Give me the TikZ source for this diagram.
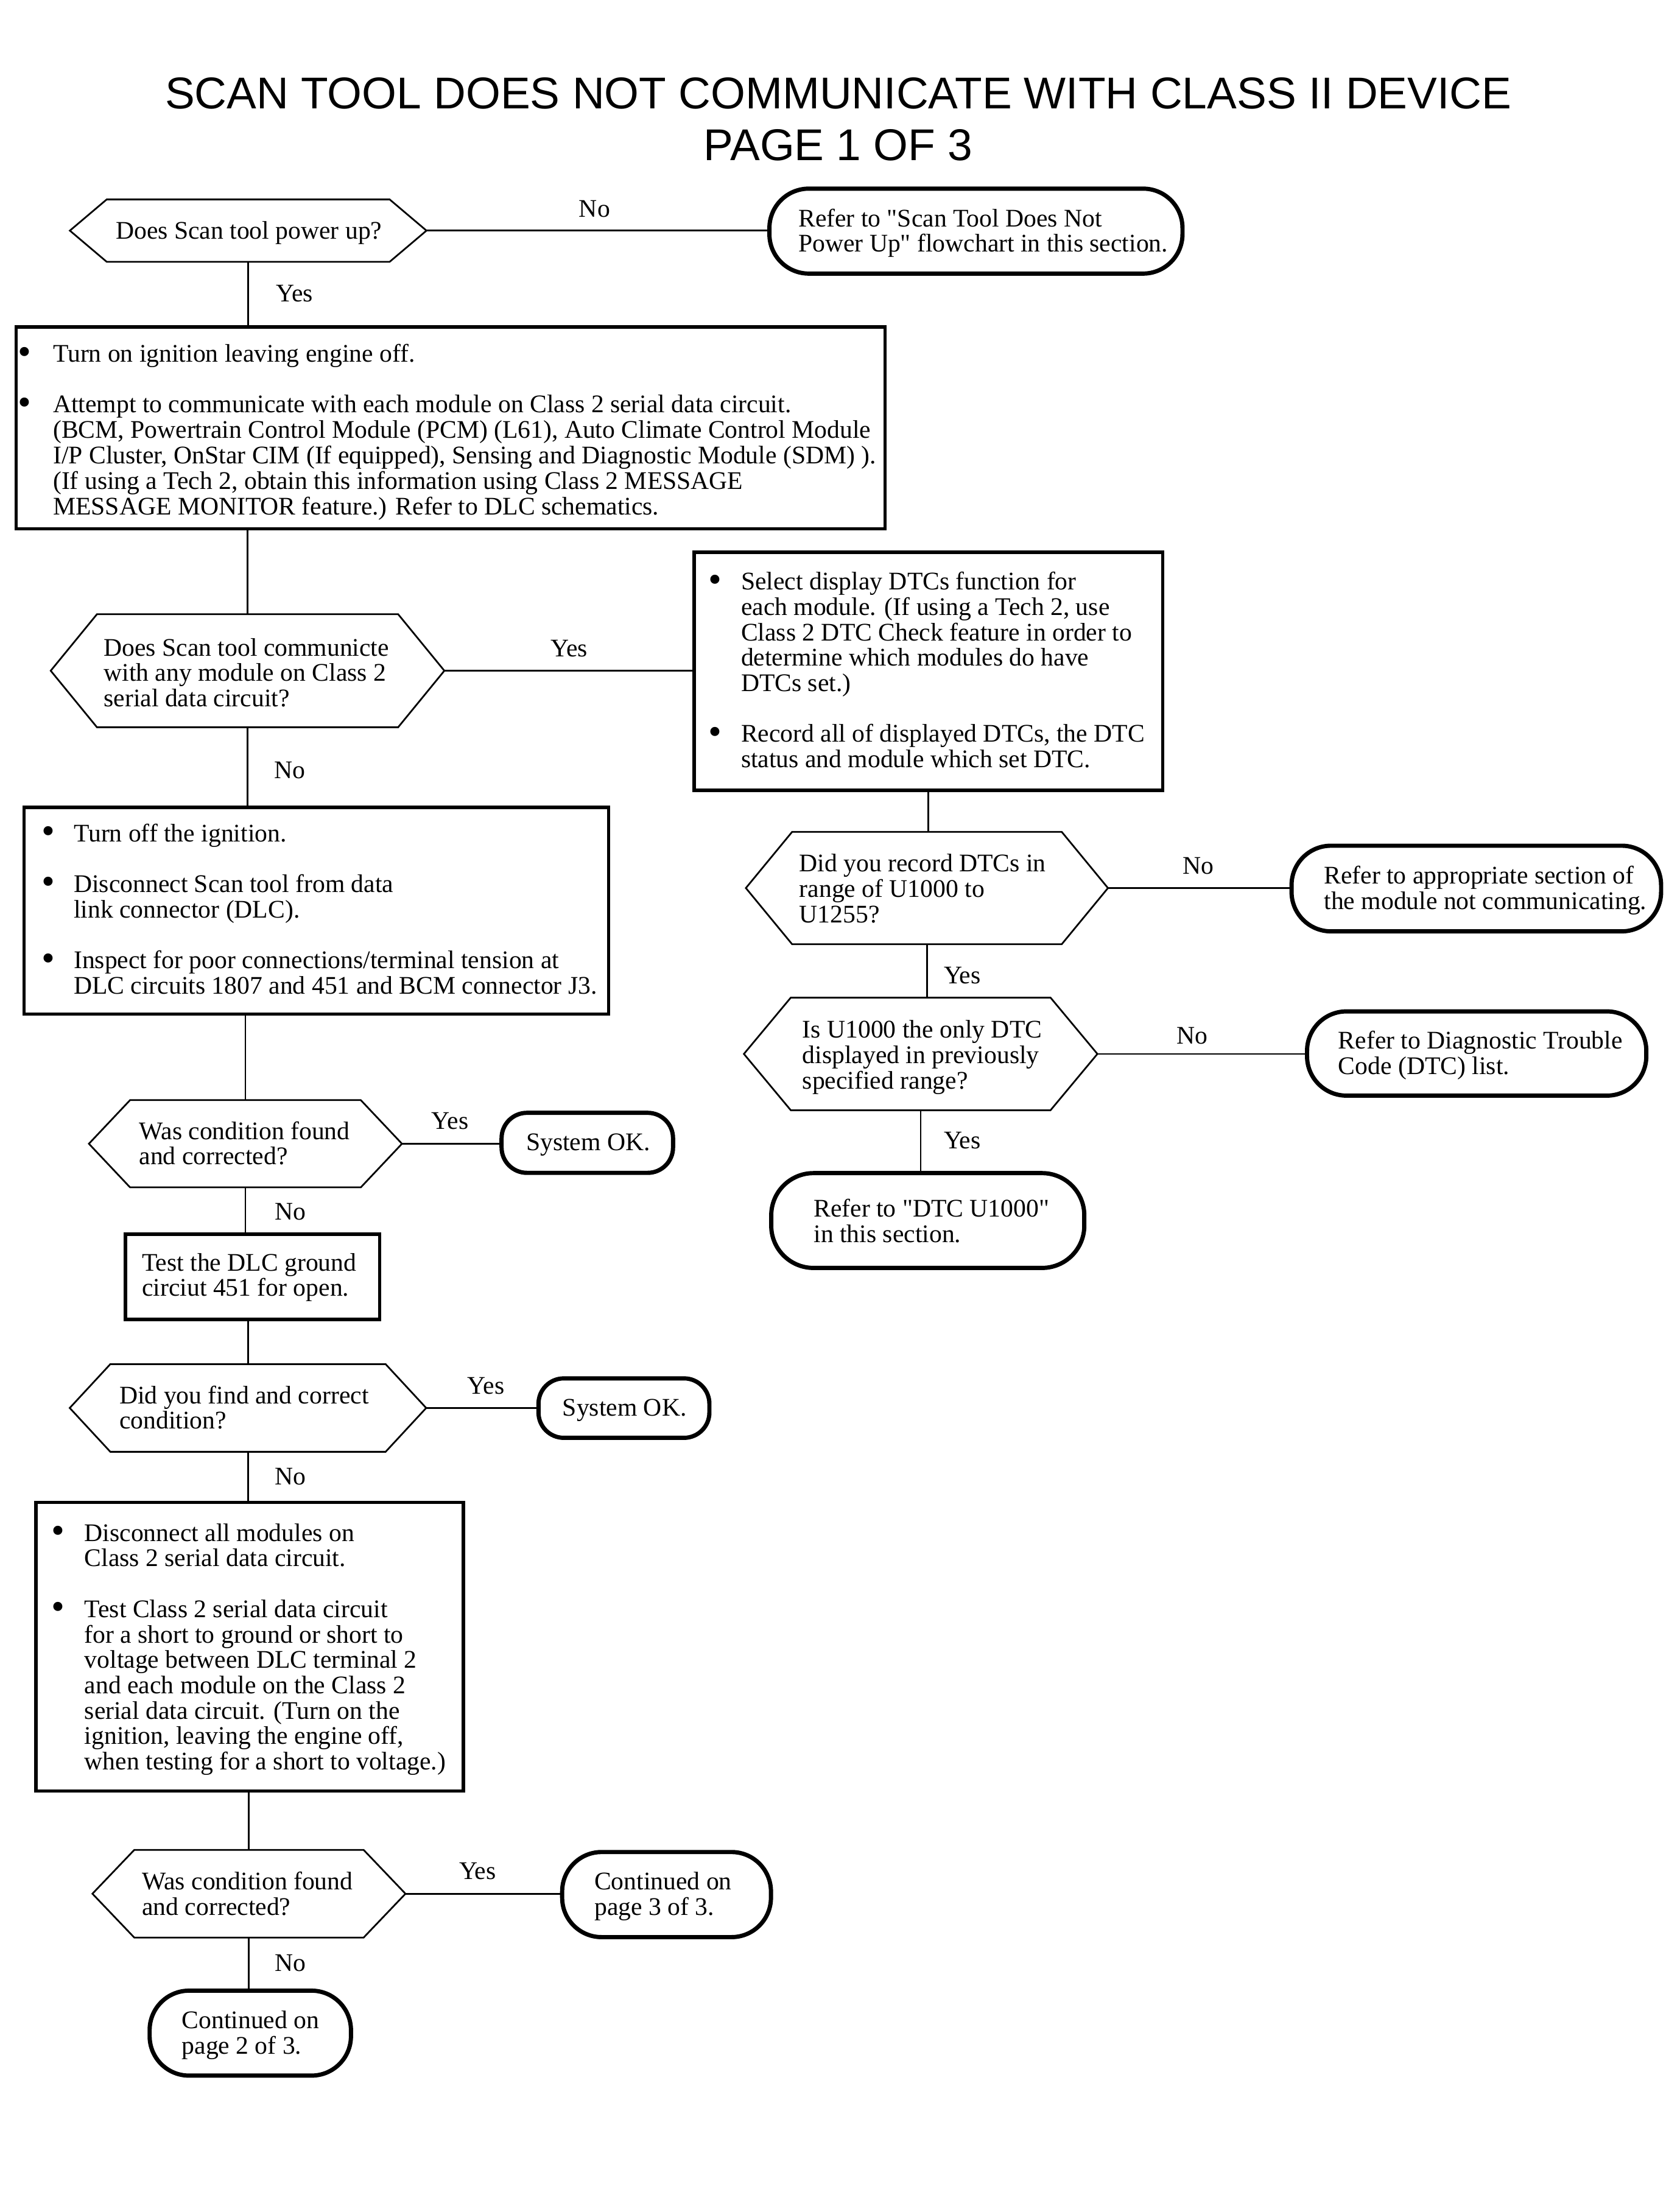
\documentclass[tikz,border=0pt]{standalone}
\usepackage{fontspec}
\setmainfont{Liberation Serif}
\newfontfamily\titlefont{Liberation Sans}
\tikzset{
  txt/.style={font=\fontsize{18}{18}\selectfont, inner sep=0pt},
  hexshape/.style={txt},
  boxshape/.style={txt, draw, line width=2.4pt},
  termshape/.style={txt, draw, line width=3pt, rounded corners=#1},
  termshape/.default=28pt,
  hexline/.style={line width=1.2pt, line join=miter},
  conn/.style={line width=1.2pt},
  lbl/.style={txt, anchor=base},
  ttl/.style={font=\titlefont\fontsize{31.6}{36}\selectfont, inner sep=0pt, anchor=base}
}
\newcommand\bul[1]{\makebox[#1pt][l]{\raisebox{-1.5pt}{\fontsize{27}{18}\selectfont\textbullet}}}
\newcommand\fnode[9]{%
  \pgfmathsetmacro\fnW{#5-#3}%
  \pgfmathsetmacro\fnH{#7-#4}%
  \pgfmathsetmacro\fnD{#6-#7}%
  \pgfmathsetmacro\fnO{#8-#3}%
  \node[#1, anchor=base west, text height=\fnH pt, text depth=\fnD pt] (#2) at (#3,#7)
    {\makebox[\fnW pt][l]{\hspace*{\fnO pt}\begin{tabular}[t]{@{}l@{}l@{}}#9\end{tabular}}};%
}
\newcommand\hexdraw[2]{\draw[hexline] (#1.west) -- ([xshift=#2pt]#1.north west) -- ([xshift=-#2pt]#1.north east) -- (#1.east) -- ([xshift=-#2pt]#1.south east) -- ([xshift=#2pt]#1.south west) -- cycle;}
\begin{document}
\begin{tikzpicture}[x=1pt,y=-1pt]
\fill[white] (0,0) rectangle (1192,1568);
\useasboundingbox (0,0) rectangle (1192,1568);

% title
\node[ttl] (title1) at (595,77) {SCAN TOOL DOES NOT COMMUNICATE WITH CLASS II DEVICE};
\node[ttl] (title2) at (595,114) {PAGE 1 OF 3};

% left column
\fnode{hexshape}{d1}{49.6}{141.8}{302.3}{185.6}{169.6}{82.0}{Does Scan tool power up?}
\hexdraw{d1}{26.1}

\fnode{termshape}{t1}{544.6}{133.9}{837.8}{194.2}{160.8}{565.2}{Refer to \textquotedbl Scan Tool Does Not\\ Power Up\textquotedbl\ flowchart in this section.}

\fnode{boxshape}{b1}{10.3}{232}{626.9}{375.3}{257}{11.4}{%
\bul{25.1}&Turn on ignition leaving engine off.\\[18pt]
\bul{25.1}&Attempt to communicate with each module on Class 2 serial data circuit.\\
&(BCM, Powertrain Control Module (PCM) (L61), Auto Climate Control Module\\
&I/P Cluster, OnStar CIM (If equipped), Sensing and Diagnostic Module (SDM) ).\\
&(If using a Tech 2, obtain this information using Class 2 MESSAGE\\
&MESSAGE MONITOR feature.) Refer to DLC schematics.}

\fnode{hexshape}{d2}{36}{436.2}{315}{516}{465.5}{73.5}{Does Scan tool communicte\\ with any module on Class 2\\ serial data circuit?}
\hexdraw{d2}{32.8}

\fnode{boxshape}{b2}{491.4}{391.9}{824}{560.9}{418.6}{501.6}{%
\bul{23.2}&Select display DTCs function for\\
&each module. (If using a Tech 2, use\\
&Class 2 DTC Check feature in order to\\
&determine which modules do have\\
&DTCs set.)\\[18pt]
\bul{23.2}&Record all of displayed DTCs, the DTC\\
&status and module which set DTC.}

\fnode{boxshape}{b3}{15.8}{573.1}{430.8}{719.8}{597.3}{28.4}{%
\bul{22.8}&Turn off the ignition.\\[18pt]
\bul{22.8}&Disconnect Scan tool from data\\
&link connector (DLC).\\[18pt]
\bul{22.8}&Inspect for poor connections/terminal tension at\\
&DLC circuits 1807 and 451 and BCM connector J3.}

\fnode{hexshape}{d3}{63.1}{781.1}{284.9}{842.6}{808.7}{98.6}{Was condition found\\ and corrected?}
\hexdraw{d3}{29.2}

\fnode{termshape=18pt}{t2}{354.5}{789.9}{476.2}{832.5}{816.6}{372}{System OK.}

\fnode{boxshape}{r4}{87.9}{876}{268.3}{936.5}{902}{99.6}{Test the DLC ground\\ circiut 451 for open.}

\fnode{hexshape}{d4}{49.5}{968.5}{302.1}{1030.3}{996.3}{84.6}{Did you find and correct\\ condition?}
\hexdraw{d4}{28.8}

\fnode{termshape=18pt}{t3}{380.7}{978.4}{502}{1020.6}{1005.1}{397.8}{System OK.}

\fnode{boxshape}{b5}{24.4}{1066.5}{327.8}{1271.2}{1094}{35.4}{%
\bul{23.4}&Disconnect all modules on\\
&Class 2 serial data circuit.\\[18pt]
\bul{23.4}&Test Class 2 serial data circuit\\
&for a short to ground or short to\\
&voltage between DLC terminal 2\\
&and each module on the Class 2\\
&serial data circuit. (Turn on the\\
&ignition, leaving the engine off,\\
&when testing for a short to voltage.)}

\fnode{hexshape}{d5}{65.6}{1313.3}{287.4}{1375.1}{1341.3}{100.7}{Was condition found\\ and corrected?}
\hexdraw{d5}{29.7}

\fnode{termshape}{t4}{397.5}{1314.6}{545.7}{1375}{1341.3}{420.4}{Continued on\\ page 3 of 3.}

\fnode{termshape}{t5}{104.7}{1413}{247.6}{1473.3}{1440}{127.6}{Continued on\\ page 2 of 3.}

% right column
\fnode{hexshape}{d6}{529.4}{590.7}{786}{670}{618.7}{567.2}{Did you record DTCs in\\ range of U1000 to\\ U1255?}
\hexdraw{d6}{32.8}

\fnode{termshape}{t6}{915.2}{600.3}{1177.5}{661.1}{627.3}{938.3}{Refer to appropriate section of\\ the module not communicating.}

\fnode{hexshape}{d7}{528}{708.3}{778.5}{787.9}{736.8}{569.4}{Is U1000 the only DTC\\ displayed in previously\\ specified range?}
\hexdraw{d7}{33.3}

\fnode{termshape}{t7}{926.2}{717.9}{1167}{777.7}{744.5}{948.4}{Refer to Diagnostic Trouble\\ Code (DTC) list.}

\fnode{termshape=30pt}{t8}{545.9}{832.7}{768.1}{900}{863.9}{576.1}{Refer to \textquotedbl DTC U1000\textquotedbl\\ in this section.}

% connectors
\draw[conn] (d1.east) -- (d1.east -| t1.west);
\draw[conn] (d1.south) -- (d1.south |- b1.north);
\draw[conn] (d2.north |- b1.south) -- (d2.north);
\draw[conn] (d2.east) -- (d2.east -| b2.west);
\draw[conn] (d2.south) -- (d2.south |- b3.north);
\draw[conn] (d3.north |- b3.south) -- (d3.north);
\draw[conn] (d3.east) -- (d3.east -| t2.west);
\draw[conn] (d3.south) -- (d3.south |- r4.north);
\draw[conn] (d4.north |- r4.south) -- (d4.north);
\draw[conn] (d4.east) -- (d4.east -| t3.west);
\draw[conn] (d4.south) -- (d4.south |- b5.north);
\draw[conn] (d5.north |- b5.south) -- (d5.north);
\draw[conn] (d5.east) -- (d5.east -| t4.west);
\draw[conn] (d5.south) -- (d5.south |- t5.north);
\draw[conn] (b2.south) -- (b2.south |- d6.north);
\draw[conn] (d6.east) -- (d6.east -| t6.west);
\draw[conn] (d6.south) -- (d6.south |- d7.north);
\draw[conn] (d7.east) -- (d7.east -| t7.west);
\draw[conn] (d7.south) -- (d7.south |- t8.north);

% labels
\node[lbl] (l1) at (422,154) {No};
\node[lbl] (l2) at (209,214) {Yes};
\node[lbl] (l3) at (404,466) {Yes};
\node[lbl] (l4) at (205.6,552.5) {No};
\node[lbl] (l5) at (319.5,801.6) {Yes};
\node[lbl] (l6) at (206,866) {No};
\node[lbl] (l7) at (345,989.7) {Yes};
\node[lbl] (l8) at (206,1054) {No};
\node[lbl] (l9) at (339,1334) {Yes};
\node[lbl] (l10) at (206,1399) {No};
\node[lbl] (l11) at (850.5,620.4) {No};
\node[lbl] (l12) at (683,698.2) {Yes};
\node[lbl] (l13) at (846,741) {No};
\node[lbl] (l14) at (683,815.3) {Yes};
\end{tikzpicture}
\end{document}
